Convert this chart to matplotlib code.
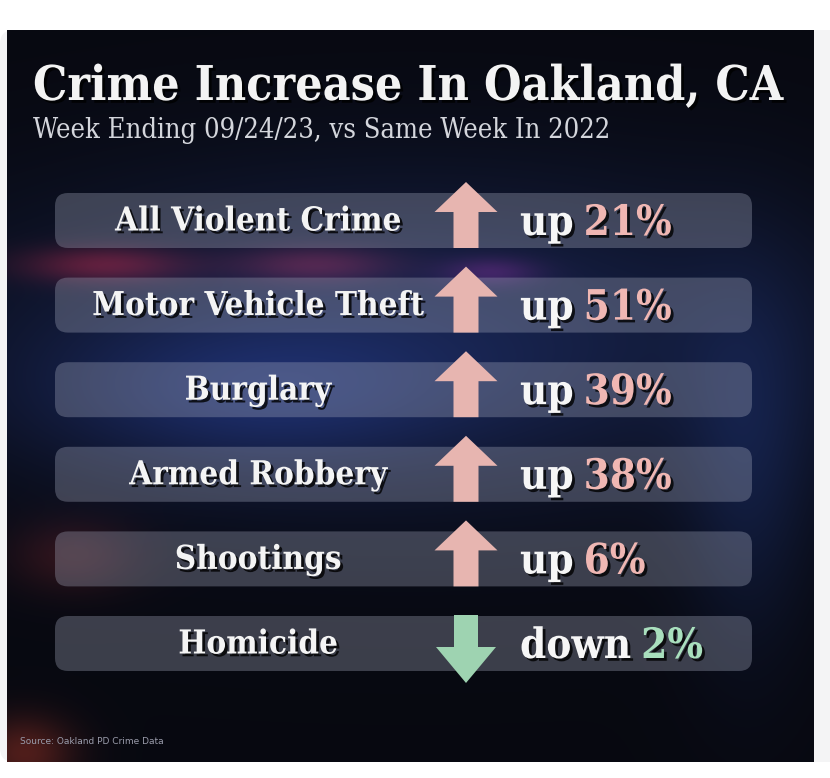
import numpy as np
import matplotlib
matplotlib.use('Agg')
import matplotlib.pyplot as plt
from matplotlib.patches import FancyBboxPatch, FancyArrow
import matplotlib.patheffects as pe

W, H = 830, 778

title = "Crime Increase In Oakland, CA"
subtitle = "Week Ending 09/24/23, vs Same Week In 2022"
source = "Source: Oakland PD Crime Data"
categories = ["All Violent Crime", "Motor Vehicle Theft", "Burglary",
              "Armed Robbery", "Shootings", "Homicide"]
changes = [21, 51, 39, 38, 6, -2]

UP_ARROW = '#e7b5b0'
UP_NUM = '#f0b7b3'
DOWN_ARROW = '#9ed3b1'
DOWN_NUM = '#a9dfbd'
SERIF = dict(family='DejaVu Serif', fontstretch='condensed')

fig = plt.figure(figsize=(W / 100, H / 100), dpi=100)
fig.patch.set_facecolor('white')
ax = fig.add_axes([0, 0, 1, 1])
ax.set_xlim(0, W)
ax.set_ylim(H, 0)
ax.axis('off')

# card behind the picture
ax.add_patch(FancyBboxPatch((0, 30), 860, 732, boxstyle='round,pad=0,rounding_size=14',
                            fc='#f4f4f5', ec='none', zorder=0))

# dark blurred background
ny, nx = 240, 260
yy, xx = np.mgrid[0:1:ny * 1j, 0:1:nx * 1j]
img = np.zeros((ny, nx, 3))
img[:] = np.array([0.03, 0.035, 0.065])


def blob(cx, cy, sx, sy, col, amp=1.0):
    g = amp * np.exp(-(((xx - cx) / sx) ** 2 + ((yy - cy) / sy) ** 2))
    img[:] += g[..., None] * np.array(col)


blob(0.50, 0.42, 0.55, 0.22, (0.06, 0.10, 0.23))
blob(0.30, 0.50, 0.25, 0.10, (0.04, 0.07, 0.18))
blob(0.12, 0.32, 0.10, 0.025, (0.40, 0.05, 0.08), 0.8)
blob(0.38, 0.32, 0.10, 0.025, (0.35, 0.06, 0.10), 0.7)
blob(0.60, 0.33, 0.06, 0.02, (0.30, 0.05, 0.25), 0.6)
blob(0.08, 0.72, 0.08, 0.05, (0.25, 0.06, 0.05), 0.6)
blob(0.02, 0.99, 0.06, 0.05, (0.35, 0.10, 0.05), 0.8)
blob(0.92, 0.60, 0.08, 0.25, (0.03, 0.06, 0.14))
img = np.clip(img, 0, 1)
ax.imshow(img, extent=[7, 813, 762, 30], aspect='auto', interpolation='bicubic', zorder=1)

renderer = fig.canvas.get_renderer()


def text_width(s, size, **kw):
    t = ax.text(0, 0, s, fontsize=size, **kw)
    w = t.get_window_extent(renderer).width
    t.remove()
    return w


def fit(s, width, **kw):
    return 10 * width / text_width(s, 10, **kw)


shadow = [pe.withSimplePatchShadow(offset=(2, -2), shadow_rgbFace='black', alpha=0.8)]

ts = fit(title, 752, weight='bold', **SERIF)
ax.text(33, 100, title, fontsize=ts, weight='bold', color='#f3f3f3', va='baseline',
        path_effects=shadow, zorder=5, **SERIF)
ss = fit(subtitle, 577, **SERIF)
ax.text(33, 138, subtitle, fontsize=ss, color='#d4d6dc', va='baseline', zorder=5, **SERIF)
ax.text(20, 742, source, fontsize=6.5, color='#9a9cab', va='center', zorder=5)

label_size = fit("Motor Vehicle Theft", 332, weight='bold', **SERIF)
value_size = fit("down 2%", 186, weight='bold', **SERIF)

row0, step = 220, 84.6
arrow_x = 466
for i, (cat, v) in enumerate(zip(categories, changes)):
    yc = row0 + i * step
    ax.add_patch(FancyBboxPatch((55, yc - 27), 697, 55,
                                boxstyle='round,pad=0,rounding_size=13',
                                fc='#a7acc0', ec='none', alpha=0.33, zorder=2))
    ax.text(258, yc + 1, cat, fontsize=label_size, weight='bold', color='#f4f4f4',
            ha='center', va='center', path_effects=shadow, zorder=5, **SERIF)

    if v > 0:
        arr = FancyArrow(arrow_x, yc + 28, 0, -66, width=25, head_width=63, head_length=30,
                         length_includes_head=True, fc=UP_ARROW, ec='none', zorder=4)
        word, ncol = "up", UP_NUM
    else:
        arr = FancyArrow(arrow_x, yc - 28, 0, 68, width=24, head_width=60, head_length=36,
                         length_includes_head=True, fc=DOWN_ARROW, ec='none', zorder=4)
        word, ncol = "down", DOWN_NUM
    ax.add_patch(arr)

    vx = 520
    ax.text(vx, yc + 3, word, fontsize=value_size, weight='bold', color='#f6f6f6',
            va='center', path_effects=shadow, zorder=5, **SERIF)
    gap = text_width(word, value_size, weight='bold', **SERIF) + 10
    ax.text(vx + gap, yc + 3, f"{abs(v)}%", fontsize=value_size, weight='bold', color=ncol,
            va='center', path_effects=shadow, zorder=5, **SERIF)

fig.savefig('out.png', dpi=100, facecolor='white')
